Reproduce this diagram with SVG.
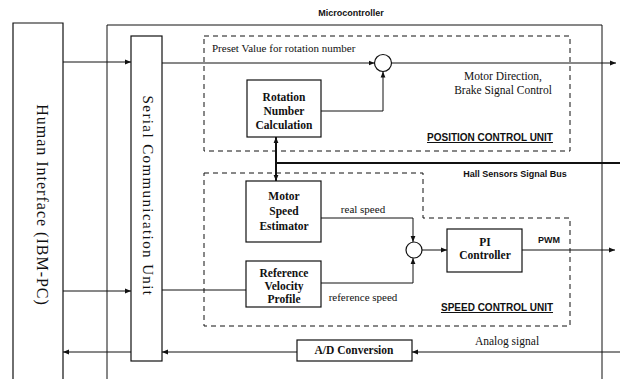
<svg xmlns="http://www.w3.org/2000/svg" width="620" height="379" viewBox="0 0 620 379">
<style>
.box{fill:#fff;stroke:#111;stroke-width:1.2}
.dash{fill:none;stroke:#111;stroke-width:1;stroke-dasharray:5,4}
.ln{fill:none;stroke:#111;stroke-width:1}
.thick{fill:none;stroke:#111;stroke-width:2}
.serif{font-family:"Liberation Serif","Times New Roman",serif;fill:#111}
.sans{font-family:"Liberation Sans",Arial,sans-serif;fill:#111;font-weight:bold}
.bt{font-family:"Liberation Serif","Times New Roman",serif;font-weight:bold;font-size:11.5px;text-anchor:middle;fill:#111}
</style>
<defs>
<marker id="ah" viewBox="0 0 10 10" refX="10" refY="5" markerWidth="6" markerHeight="6" orient="auto-start-reverse" markerUnits="userSpaceOnUse">
<path d="M0,1 L10,5 L0,9 z" fill="#111"/>
</marker>
</defs>
<rect width="620" height="379" fill="#fff"/>

<g id="human-interface">
<path class="box" d="M13,379 V23 H63 V379"/>
<text class="serif" font-size="16" letter-spacing="1" text-anchor="middle" transform="translate(37,205) rotate(90)">Human Interface (IBM-PC)</text>
</g>

<g id="microcontroller">
<path class="ln" d="M107,379 V25 H602 V379" stroke-width="1.6"/>
<text class="sans" x="351" y="16" font-size="9" text-anchor="middle">Microcontroller</text>
</g>

<g id="serial-unit">
<rect class="box" x="131" y="36" width="31" height="325"/>
<text class="serif" font-size="15" letter-spacing="1.4" text-anchor="middle" transform="translate(143,196) rotate(90)">Serial Communication Unit</text>
</g>

<g id="position-control-unit">
<rect class="dash" x="204" y="36" width="366" height="115"/>
<text class="serif" x="212" y="52" font-size="11">Preset Value for rotation number</text>
<text class="serif" x="503" y="80" font-size="11.5" text-anchor="middle">Motor Direction,</text>
<text class="serif" x="503" y="94" font-size="11.5" text-anchor="middle">Brake Signal Control</text>
<text class="sans" x="490" y="141" font-size="10" text-anchor="middle" text-decoration="underline">POSITION CONTROL UNIT</text>
</g>

<g id="rotation-number-calculation">
<rect class="box" x="247" y="80" width="74" height="57"/>
<text class="bt" x="284" y="101">Rotation</text>
<text class="bt" x="284" y="115">Number</text>
<text class="bt" x="284" y="129">Calculation</text>
</g>

<g id="sum-position">
<circle class="box" cx="383" cy="63" r="8.5"/>
</g>

<g id="speed-control-unit">
<path class="dash" d="M204,173 H423 V218 H570 V326 H204 Z"/>
<text class="sans" x="497" y="311" font-size="10" text-anchor="middle" text-decoration="underline">SPEED CONTROL UNIT</text>
</g>

<g id="motor-speed-estimator">
<rect class="box" x="246" y="181" width="75" height="61"/>
<text class="bt" x="284" y="200">Motor</text>
<text class="bt" x="284" y="215">Speed</text>
<text class="bt" x="284" y="230">Estimator</text>
</g>

<g id="reference-velocity-profile">
<rect class="box" x="246" y="261" width="75" height="46"/>
<text class="bt" x="284" y="277" font-size="11">Reference</text>
<text class="bt" x="284" y="290" font-size="11">Velocity</text>
<text class="bt" x="284" y="303" font-size="11">Profile</text>
</g>

<g id="sum-speed">
<circle class="box" cx="414" cy="250" r="8"/>
</g>

<g id="pi-controller">
<rect class="box" x="447" y="229" width="75" height="43"/>
<text class="bt" x="485" y="246">PI</text>
<text class="bt" x="485" y="259">Controller</text>
</g>

<g id="ad-conversion">
<rect class="box" x="297" y="340" width="115" height="21"/>
<text class="bt" x="354" y="354" font-size="12">A/D Conversion</text>
</g>

<g id="connectors">
<line class="ln" x1="63" y1="62" x2="131" y2="62" marker-end="url(#ah)"/>
<line class="ln" x1="63" y1="291" x2="131" y2="291" marker-end="url(#ah)"/>
<line class="ln" x1="131" y1="352" x2="63" y2="352" marker-end="url(#ah)"/>
<line class="ln" x1="162" y1="63" x2="374.5" y2="63" marker-end="url(#ah)"/>
<line class="ln" x1="391.5" y1="63" x2="616" y2="63" marker-end="url(#ah)"/>
<polyline class="ln" points="321,111 383,111 383,71.5" marker-end="url(#ah)"/>
<line class="thick" x1="276" y1="137" x2="276" y2="181" stroke-width="1.6" marker-start="url(#ah)" marker-end="url(#ah)"/>
<line class="thick" x1="276" y1="163" x2="620" y2="163"/>
<polyline class="ln" points="321,218 413,218 413,242" marker-end="url(#ah)"/>
<line class="ln" x1="162" y1="290" x2="246" y2="290"/>
<polyline class="ln" points="321,283 413,283 413,258" marker-end="url(#ah)"/>
<line class="ln" x1="422" y1="250" x2="447" y2="250" marker-end="url(#ah)"/>
<line class="ln" x1="522" y1="250" x2="615" y2="250" marker-end="url(#ah)"/>
<line class="ln" x1="297" y1="352" x2="162" y2="352" marker-end="url(#ah)"/>
<line class="ln" x1="620" y1="352" x2="412" y2="352" marker-end="url(#ah)"/>
</g>

<g id="labels">
<text class="serif" x="363" y="213" font-size="11" text-anchor="middle">real speed</text>
<text class="serif" x="363" y="301" font-size="11" text-anchor="middle">reference speed</text>
<text class="sans" x="549" y="243" font-size="9" text-anchor="middle">PWM</text>
<text class="sans" x="515" y="177" font-size="9" text-anchor="middle">Hall Sensors Signal Bus</text>
<text class="serif" x="507" y="345" font-size="11.5" text-anchor="middle">Analog signal</text>
</g>
</svg>
